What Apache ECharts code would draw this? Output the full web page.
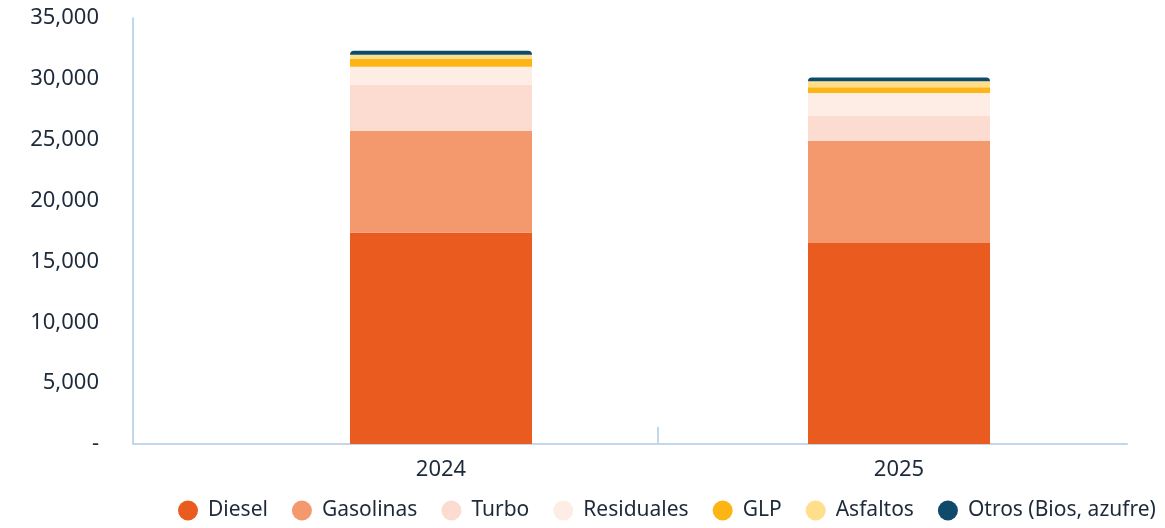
<!DOCTYPE html>
<html>
<head>
<meta charset="utf-8">
<script src="https://cdn.jsdelivr.net/npm/echarts@6/dist/echarts.min.js"></script>
<style>
  html, body { margin: 0; padding: 0; background: #fff; }
  #chart { width: 1165px; height: 528px; }
</style>
</head>
<body>
<div id="chart"></div>
<script>
const years = ['2024', '2025']
const diesel = [17350, 16510]
const gasolinas = [8380, 8380]
const turbo = [3780, 2050]
const residuales = [1480, 1890]
const glp = [660, 490]
const asfaltos = [330, 490]
const otros = [330, 300]

const seriesDefs = [
  { name: 'Diesel', data: diesel, color: '#EA5B20' },
  { name: 'Gasolinas', data: gasolinas, color: '#F4996E' },
  { name: 'Turbo', data: turbo, color: '#FCDCD0' },
  { name: 'Residuales', data: residuales, color: '#FEEDE5' },
  { name: 'GLP', data: glp, color: '#FDB515' },
  { name: 'Asfaltos', data: asfaltos, color: '#FFDE8C' },
  { name: 'Otros (Bios, azufre)', data: otros, color: '#0F4A6B' }
]

const textColor = '#1d2a3a'
const axisColor = '#c3d7ea'

const chart = echarts.init(document.getElementById('chart'))
chart.setOption({
  animation: false,
  textStyle: { fontFamily: 'Noto Sans' },
  grid: { left: 133, right: 38, top: 18, bottom: 84 },
  legend: {
    bottom: 2,
    left: 173,
    icon: 'circle',
    itemWidth: 20,
    itemHeight: 20,
    itemGap: 24,
    textStyle: { fontSize: 21, color: textColor, padding: [0, 0, 0, 5] },
    data: seriesDefs.map(s => s.name)
  },
  xAxis: {
    type: 'value',
    min: -0.6725,
    max: 1.4978,
    splitLine: { show: false },
    axisLine: { show: true, lineStyle: { color: axisColor, width: 2 } },
    axisTick: {
      show: true,
      inside: true,
      length: 17,
      customValues: [0.474],
      lineStyle: { color: axisColor, width: 2 }
    },
    axisLabel: {
      customValues: [0, 1],
      formatter: v => years[Math.round(v)],
      color: textColor,
      fontSize: 22,
      margin: 15
    }
  },
  yAxis: {
    type: 'value',
    min: 0,
    max: 35000,
    interval: 5000,
    splitLine: { show: false },
    axisLine: { show: true, onZero: false, lineStyle: { color: axisColor, width: 2 } },
    axisTick: { show: false },
    axisLabel: {
      color: textColor,
      fontSize: 22,
      margin: 34,
      formatter: v => v === 0 ? '-' : v.toLocaleString('en-US')
    }
  },
  series: seriesDefs.map((s, i) => ({
    name: s.name,
    type: 'bar',
    stack: 'total',
    barWidth: 182,
    encode: { x: 1, y: 0 },
    itemStyle: {
      color: s.color,
      borderRadius: i === seriesDefs.length - 1 ? [4, 4, 0, 0] : 0
    },
    data: s.data.map((v, k) => [v, k])
  }))
})
</script>
</body>
</html>
